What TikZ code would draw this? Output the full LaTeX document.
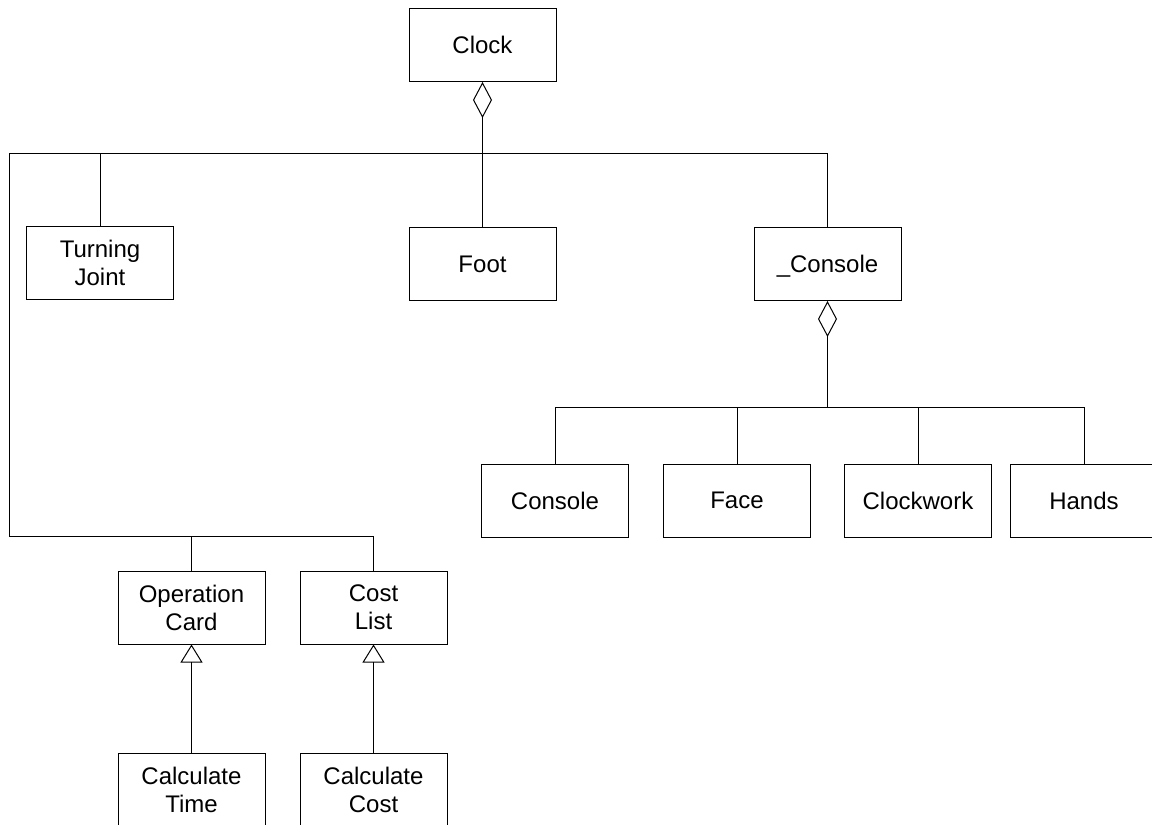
\documentclass[tikz,border=0pt]{standalone}
\usepackage{fontspec}
\setmainfont{Liberation Sans}
\usetikzlibrary{arrows.meta}

\tikzset{
  cls/.style={draw, line width=0.5pt, minimum width=73.5pt, minimum height=36.5pt,
    inner sep=0pt, align=center, font=\fontsize{12}{14}\selectfont},
  aggr/.style={{Diamond[open,length=18pt,width=9.5pt]}-},
  gen/.style={{Triangle[open,length=9pt,width=11pt]}-}
}

\begin{document}
\begin{tikzpicture}[x=0.5pt,y=-0.5pt,line width=0.5pt]
  \useasboundingbox (0,0) rectangle (1152,825);
  \clip (0,0) rectangle (1152,825);

  % top level
  \node[cls] (clock) at (482.5,45) {Clock};
  \node[cls] (joint) at (100,263) {Turning\\Joint};
  \node[cls] (foot) at (482.5,264) {Foot};
  \node[cls] (ucons) at (827.5,264) {\smash{\_}Console};

  % console parts
  \node[cls] (console) at (555,500.5) {Console};
  \node[cls] (face) at (737,500.5) {Face};
  \node[cls] (clockwork) at (918,500.5) {Clockwork};
  \node[cls] (hands) at (1084,500.5) {Hands};

  % cards and lists
  \node[cls] (opcard) at (191.5,607.5) {Operation\\Card};
  \node[cls] (costlist) at (373.5,607.5) {Cost\\List};
  \node[cls] (calctime) at (191.5,790) {Calculate\\Time};
  \node[cls] (calccost) at (373.5,790) {Calculate\\Cost};

  \coordinate (busl) at (9,153);
  \coordinate (busb) at (9,536);
  \coordinate (busc) at (0,407);

  \draw[aggr] (clock.south) -- (foot.north);
  \draw (ucons.north) |- (busl) -- (busb) -| (costlist.north);
  \draw (joint.north) -- (joint.north |- busl);
  \draw (opcard.north) -- (opcard.north |- busb);

  \draw[aggr] (ucons.south) -- (ucons.south |- busc);
  \draw (console.north) -- (console.north |- busc) -| (hands.north);
  \foreach \n in {face,clockwork}{
    \draw (\n.north) -- (\n.north |- busc);
  }

  \draw[gen] (opcard.south) -- (calctime.north);
  \draw[gen] (costlist.south) -- (calccost.north);
\end{tikzpicture}
\end{document}
